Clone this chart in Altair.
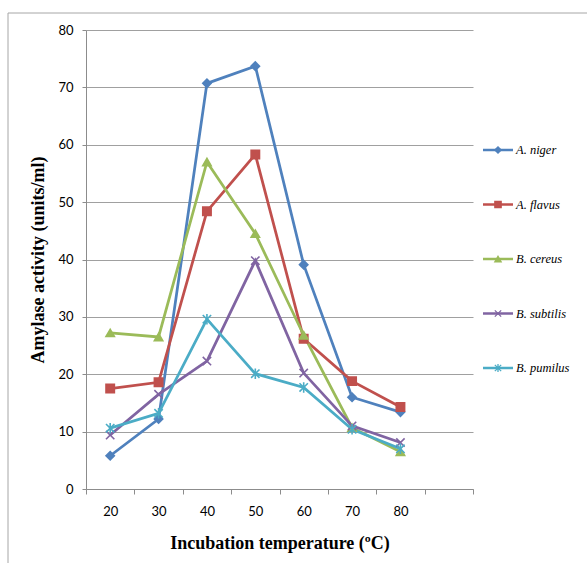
import altair as alt
import pandas as pd

temps = ["20", "30", "40", "50", "60", "70", "80"]
series = ["A. niger", "A. flavus", "B. cereus", "B. subtilis", "B. pumilus"]
niger = [5.8, 12.2, 70.7, 73.7, 39.1, 16.0, 13.4]
flavus = [17.5, 18.6, 48.4, 58.3, 26.2, 18.8, 14.3]
cereus = [27.2, 26.5, 57.0, 44.5, 26.8, 10.7, 6.5]
subtilis = [9.4, 16.5, 22.3, 39.8, 20.2, 11.0, 8.1]
pumilus = [10.6, 13.2, 29.6, 20.1, 17.7, 10.4, 7.0]
y_ticks = [0, 10, 20, 30, 40, 50, 60, 70, 80]

colors = ["#4F81BD", "#C0504D", "#9BBB59", "#8064A2", "#4BACC6"]
X_PATH = "M-1,-1L1,1M-1,1L1,-1"
STAR_PATH = "M-1,-1L1,1M-1,1L1,-1M0,-1.25L0,1.25"
shapes = ["diamond", "square", "triangle-up", X_PATH, STAR_PATH]

rows = []
for name, vals in zip(series, [niger, flavus, cereus, subtilis, pumilus]):
    for t, v in zip(temps, vals):
        rows.append({"series": name, "temp": t, "value": v})
df = pd.DataFrame(rows)
leg_df = pd.DataFrame({"series": series, "order": list(range(len(series)))})

color_scale = alt.Scale(domain=series, range=colors)
shape_scale = alt.Scale(domain=series, range=shapes)
x_domain = temps + [" "]

x_enc = alt.X(
    "temp:O",
    bandPosition=0.5,
    scale=alt.Scale(type="band", domain=x_domain, paddingInner=0, paddingOuter=0),
    axis=alt.Axis(
        title="Incubation temperature (ºC)",
        labelAngle=0,
        tickBand="extent",
        tickExtra=True,
        tickSize=5,
        tickColor="#8c8c8c",
        domainColor="#8c8c8c",
        labelFont="Lato",
        labelFontSize=13,
        labelColor="#000000",
        labelPadding=11,
        titleFont="Liberation Serif",
        titleFontSize=18,
        titleFontWeight="bold",
        titleColor="#000000",
        titlePadding=16,
        grid=False,
    ),
)
y_enc = alt.Y(
    "value:Q",
    scale=alt.Scale(domain=[0, 80], nice=False, zero=True),
    axis=alt.Axis(
        title="Amylase activity (units/ml)",
        values=y_ticks,
        tickSize=4,
        tickColor="#8c8c8c",
        domainColor="#8c8c8c",
        gridColor="#a0a0a0",
        gridWidth=1,
        labelFont="Lato",
        labelFontSize=13,
        labelColor="#000000",
        labelPadding=9,
        titleFont="Liberation Serif",
        titleFontSize=18,
        titleFontWeight="bold",
        titleColor="#000000",
        titlePadding=10,
    ),
)

base = alt.Chart(df)
lines = base.mark_line(strokeWidth=2.75).encode(
    x=x_enc,
    y=y_enc,
    color=alt.Color("series:N", scale=color_scale, legend=None),
    detail="series:N",
)
points = base.mark_point(filled=True, size=70, strokeWidth=1.6, opacity=1).encode(
    x=x_enc,
    y=y_enc,
    color=alt.Color("series:N", scale=color_scale, legend=None),
    stroke=alt.Stroke("series:N", scale=color_scale, legend=None),
    shape=alt.Shape("series:N", scale=shape_scale, legend=None),
)
main = alt.layer(lines, points)

leg_y = alt.Y(
    "order:Q",
    scale=alt.Scale(domain=[0, 4], range=[120, 338], nice=False, zero=False),
    axis=None,
)
leg_base = alt.Chart(leg_df)
leg_rule = leg_base.mark_rule(strokeWidth=2.5).encode(
    x=alt.value(397),
    x2=alt.value(427),
    y=leg_y,
    color=alt.Color("series:N", scale=color_scale, legend=None),
)
leg_pt = leg_base.mark_point(filled=True, size=40, strokeWidth=1.3, opacity=1).encode(
    x=alt.value(412),
    y=leg_y,
    color=alt.Color("series:N", scale=color_scale, legend=None),
    stroke=alt.Stroke("series:N", scale=color_scale, legend=None),
    shape=alt.Shape("series:N", scale=shape_scale, legend=None),
)
leg_text = leg_base.mark_text(
    align="left",
    baseline="middle",
    font="Liberation Serif",
    fontStyle="italic",
    fontSize=12.5,
    color="#000000",
).encode(x=alt.value(430), y=leg_y, text="series:N")

frame_left = alt.Chart(leg_df.head(1)).mark_rule(color="#a6a6a6", strokeWidth=1).encode(
    x=alt.value(-78), y=alt.value(-17), y2=alt.value(540)
)
frame_top = alt.Chart(leg_df.head(1)).mark_rule(color="#a6a6a6", strokeWidth=1).encode(
    x=alt.value(-78), x2=alt.value(520), y=alt.value(-17)
)

legend = alt.layer(leg_rule, leg_pt, leg_text, frame_left, frame_top)

chart = (
    alt.layer(main, legend)
    .resolve_scale(y="independent")
    .properties(
        width=387,
        height=459,
        padding={"left": 86, "top": 30, "right": 114, "bottom": 74},
        autosize=alt.AutoSizeParams(type="none"),
        background="white",
    )
    .configure_view(stroke=None)
)

chart.save("out.html", embed_options={"renderer": "svg", "actions": False})
